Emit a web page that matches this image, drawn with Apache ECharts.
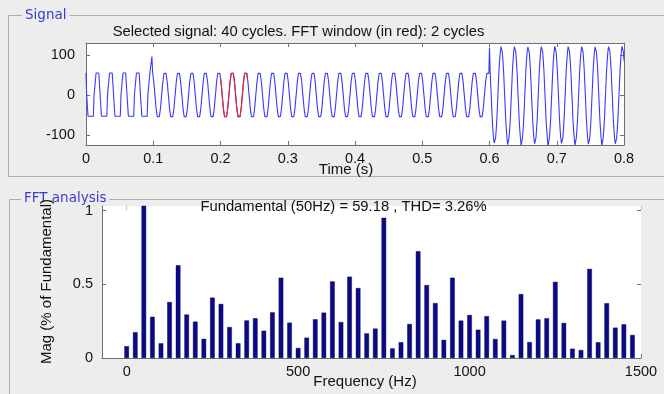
<!DOCTYPE html>
<html>
<head>
<meta charset="utf-8">
<script src="https://cdn.jsdelivr.net/npm/echarts@6/dist/echarts.min.js"></script>
<style>
  html, body { margin: 0; padding: 0; background: #ededed; }
  #chart { width: 664px; height: 394px; }
</style>
</head>
<body>
<div id="chart"></div>
<script>
// Recorded signal, one sample every millisecond (20 samples per 50 Hz cycle)
const sampleStep = 0.001;
const fftWindow = [0.2, 0.24];

// 0 – 0.1 s : three-level quasi-square wave, spike just before 0.1 s
const segSquare = [
  55,0,0,-53,-53,-53,-53,-53,-53,-53,-53,-53,0,0,0,55,55,55,55,55,
  55,0,0,-53,-53,-53,-53,-53,-53,-53,-53,-53,0,0,0,55,55,55,55,55,
  55,0,0,-53,-53,-53,-53,-53,-53,-53,-53,-53,0,0,0,55,55,55,55,55,
  55,0,0,-53,-53,-53,-53,-53,-53,-53,-53,-53,0,0,0,55,55,55,55,55,
  55,0,0,-53,-53,-53,-53,-53,-53,-53,-53,-53,0,0,0,55,55,55,96,58
];

// 0.1 – 0.6 s : stepped sine, about 58 peak (25 cycles)
const segSine = [
  43,29,9,-9,-29,-43,-54,-58,-58,-54,-43,-29,-9,9,29,43,54,57,57,54,
  43,29,9,-9,-29,-43,-54,-58,-58,-54,-43,-29,-9,9,29,43,54,57,57,54,
  43,29,9,-9,-29,-43,-54,-58,-58,-54,-43,-29,-9,9,29,43,54,57,57,54,
  43,29,9,-9,-29,-43,-54,-58,-58,-54,-43,-29,-9,9,29,43,54,57,57,54,
  43,29,9,-9,-29,-43,-54,-58,-58,-54,-43,-29,-9,9,29,43,54,57,57,54,
  43,29,9,-9,-29,-43,-54,-58,-58,-54,-43,-29,-9,9,29,43,54,57,57,54,
  43,29,9,-9,-29,-43,-54,-58,-58,-54,-43,-29,-9,9,29,43,54,57,57,54,
  43,29,9,-9,-29,-43,-54,-58,-58,-54,-43,-29,-9,9,29,43,54,57,57,54,
  43,29,9,-9,-29,-43,-54,-58,-58,-54,-43,-29,-9,9,29,43,54,57,57,54,
  43,29,9,-9,-29,-43,-54,-58,-58,-54,-43,-29,-9,9,29,43,54,57,57,54,
  43,29,9,-9,-29,-43,-54,-58,-58,-54,-43,-29,-9,9,29,43,54,57,57,54,
  43,29,9,-9,-29,-43,-54,-58,-58,-54,-43,-29,-9,9,29,43,54,57,57,54,
  43,29,9,-9,-29,-43,-54,-58,-58,-54,-43,-29,-9,9,29,43,54,57,57,54,
  43,29,9,-9,-29,-43,-54,-58,-58,-54,-43,-29,-9,9,29,43,54,57,57,54,
  43,29,9,-9,-29,-43,-54,-58,-58,-54,-43,-29,-9,9,29,43,54,57,57,54,
  43,29,9,-9,-29,-43,-54,-58,-58,-54,-43,-29,-9,9,29,43,54,57,57,54,
  43,29,9,-9,-29,-43,-54,-58,-58,-54,-43,-29,-9,9,29,43,54,57,57,54,
  43,29,9,-9,-29,-43,-54,-58,-58,-54,-43,-29,-9,9,29,43,54,57,57,54,
  43,29,9,-9,-29,-43,-54,-58,-58,-54,-43,-29,-9,9,29,43,54,57,57,54,
  43,29,9,-9,-29,-43,-54,-58,-58,-54,-43,-29,-9,9,29,43,54,57,57,54,
  43,29,9,-9,-29,-43,-54,-58,-58,-54,-43,-29,-9,9,29,43,54,57,57,54,
  43,29,9,-9,-29,-43,-54,-58,-58,-54,-43,-29,-9,9,29,43,54,57,57,54,
  43,29,9,-9,-29,-43,-54,-58,-58,-54,-43,-29,-9,9,29,43,54,57,57,54,
  43,29,9,-9,-29,-43,-54,-58,-58,-54,-43,-29,-9,9,29,43,54,57,57,54,
  43,29,9,-9,-29,-43,-54,-58,-58,-54,-43,-29,-9,9,29,43,54,57,57,54
];

// 0.6 – 0.8 s : larger stepped sine, about 122 peak (10 cycles + end sample)
const segLarge = [
  118,58,19,-19,-58,-86,-108,-120,-122,-108,-86,-58,-19,19,58,86,108,121,121,108,
  86,58,19,-19,-58,-86,-108,-124,-121,-108,-86,-58,-19,19,58,86,108,121,122,108,
  86,58,19,-19,-58,-86,-108,-127,-122,-108,-86,-58,-19,19,58,86,108,120,121,108,
  86,58,19,-19,-58,-86,-108,-122,-120,-108,-86,-58,-19,19,58,86,108,121,121,108,
  86,58,19,-19,-58,-86,-108,-128,-123,-108,-86,-58,-19,19,58,86,108,122,121,108,
  86,58,19,-19,-58,-86,-108,-121,-121,-108,-86,-58,-19,19,58,86,108,121,120,108,
  86,58,19,-19,-58,-86,-108,-126,-122,-108,-86,-58,-19,19,58,86,108,121,122,108,
  86,58,19,-19,-58,-86,-108,-123,-121,-108,-86,-58,-19,19,58,86,108,120,121,108,
  86,58,19,-19,-58,-86,-108,-127,-122,-108,-86,-58,-19,19,58,86,108,121,121,108,
  86,58,19,-19,-58,-86,-108,-122,-121,-108,-86,-58,-19,19,58,86,108,122,121,108,
  86
];

// FFT of the 2-cycle window: 25 Hz bins, magnitude in % of fundamental
const harmonicFreqs = [
  0,25,50,75,100,125,150,175,200,225,250,275,300,325,350,375,400,425,450,475,
  500,525,550,575,600,625,650,675,700,725,750,775,800,825,850,875,900,925,950,975,
  1000,1025,1050,1075,1100,1125,1150,1175,1200,1225,1250,1275,1300,1325,1350,1375,1400,1425,1450,1475
];
const harmonicMags = [
  0.08,0.175,100,0.28,0.10,0.38,0.63,0.295,0.247,0.13,0.41,0.367,0.21,0.10,0.255,0.27,0.185,0.31,0.545,0.24,
  0.068,0.138,0.263,0.308,0.52,0.244,0.552,0.475,0.167,0.20,0.952,0.065,0.107,0.231,0.725,0.495,0.373,0.123,0.545,0.254,
  0.292,0.192,0.284,0.129,0.254,0.02,0.434,0.108,0.262,0.27,0.517,0.238,0.063,0.054,0.605,0.107,0.372,0.206,0.229,0.156
];

const signalTicksY = [-100, 0, 100];
const fftTicksX = [0, 500, 1000, 1500];
const fftTicksY = [0, 0.5, 1];

const signalTitle = 'Selected signal: 40 cycles. FFT window (in red): 2 cycles';
const fftTitle = 'Fundamental (50Hz) = 59.18 , THD= 3.26%';

// ---- build series data ----
const signal = segSquare.concat(segSine, segLarge);
const signalData = signal.map((v, i) => [+(i * sampleStep).toFixed(3), v]);
const windowData = signalData.filter(p => p[0] >= fftWindow[0] - 1e-9 && p[0] <= fftWindow[1] + 1e-9);
const fftData = harmonicFreqs.map((f, i) => [f, harmonicMags[i]]);

const FONT = '"Liberation Sans", Arial, Helvetica, sans-serif';
const PANEL_FONT = '"DejaVu Sans", Verdana, sans-serif';
const AX = '#6f6f6f';
const BG = '#ededed';

function axisBase(extra) {
  return Object.assign({
    type: 'value',
    splitLine: { show: false },
    axisLine: { show: true, onZero: false, lineStyle: { color: AX, width: 1 } },
    axisTick: { show: true, inside: true, length: 4, lineStyle: { color: AX } },
    axisLabel: { show: false }
  }, extra);
}
const tickLabel = (margin, extra) => Object.assign({
  show: true, color: '#111', fontSize: 14.5, fontFamily: FONT, margin: margin
}, extra || {});
const plain = v => String(+(+v).toFixed(2));

const chart = echarts.init(document.getElementById('chart'), null, { renderer: 'canvas' });

chart.setOption({
  animation: false,
  backgroundColor: BG,
  grid: [
    { left: 86, top: 43, width: 538, height: 102, show: true, backgroundColor: '#ffffff', borderWidth: 0 },
    { left: 102, top: 206, width: 539, height: 152, show: true, backgroundColor: '#ffffff', borderWidth: 0 }
  ],
  xAxis: [
    axisBase({ gridIndex: 0, position: 'bottom', min: 0, max: 0.8, interval: 0.1,
      axisLabel: tickLabel(6, { formatter: plain }) }),
    axisBase({ gridIndex: 0, position: 'top', min: 0, max: 0.8, interval: 0.1 }),
    axisBase({ gridIndex: 1, position: 'bottom', min: -72, max: 1500,
      axisTick: { show: true, inside: true, length: 4, customValues: fftTicksX, lineStyle: { color: AX } },
      axisLabel: tickLabel(6, { customValues: fftTicksX, formatter: plain }) }),
    axisBase({ gridIndex: 1, position: 'top', min: -72, max: 1500,
      axisLine: { show: false, onZero: false },
      axisTick: { show: true, inside: true, length: 4, customValues: fftTicksX, lineStyle: { color: '#bbbbbb' } } })
  ],
  yAxis: [
    axisBase({ gridIndex: 0, position: 'left', min: -125, max: 130,
      axisTick: { show: true, inside: true, length: 4, customValues: signalTicksY, lineStyle: { color: AX } },
      axisLabel: tickLabel(11, { customValues: signalTicksY, formatter: plain }) }),
    axisBase({ gridIndex: 0, position: 'right', min: -125, max: 130,
      axisTick: { show: true, inside: true, length: 4, customValues: signalTicksY, lineStyle: { color: AX } } }),
    axisBase({ gridIndex: 1, position: 'left', min: 0, max: 1.032,
      axisTick: { show: true, inside: true, length: 4, customValues: fftTicksY, lineStyle: { color: AX } },
      axisLabel: tickLabel(9, { customValues: fftTicksY, formatter: plain }) }),
    axisBase({ gridIndex: 1, position: 'right', min: 0, max: 1.032,
      axisLine: { show: false, onZero: false },
      axisTick: { show: true, inside: true, length: 4, customValues: fftTicksY, lineStyle: { color: AX } } })
  ],
  series: [
    {
      name: 'signal', type: 'line', xAxisIndex: 0, yAxisIndex: 0,
      data: signalData, showSymbol: false, symbol: 'none', sampling: null,
      lineStyle: { color: '#3a3aff', width: 1.1 }, z: 3
    },
    {
      name: 'FFT window', type: 'line', xAxisIndex: 0, yAxisIndex: 0,
      data: windowData, showSymbol: false, symbol: 'none',
      lineStyle: { color: '#f02222', width: 1.1 }, z: 4
    },
    {
      name: 'spectrum', type: 'bar', xAxisIndex: 2, yAxisIndex: 2,
      data: fftData, barWidth: 4.6, clip: true,
      itemStyle: { color: '#0a0a86', borderColor: '#00004a', borderWidth: 0.4 }
    }
  ],
  graphic: [
    // panel frames
    { type: 'rect', z: 1, shape: { x: 8.5, y: 15.5, width: 700, height: 161 },
      style: { fill: 'none', stroke: '#acacac', lineWidth: 1 } },
    { type: 'rect', z: 1, shape: { x: 9.5, y: 199.5, width: 700, height: 300 },
      style: { fill: 'none', stroke: '#acacac', lineWidth: 1 } },
    // panel captions
    { type: 'text', z: 50, left: 22, top: 8,
      style: { text: 'Signal', fill: '#3a3ad6', font: '13.5px ' + PANEL_FONT,
               backgroundColor: BG, padding: [0, 3] } },
    { type: 'text', z: 50, left: 21, top: 191,
      style: { text: 'FFT analysis', fill: '#3a3ad6', font: '13.5px ' + PANEL_FONT,
               backgroundColor: BG, padding: [0, 3] } },
    // plot titles and axis names
    { type: 'text', z: 60, x: 298.5, y: 32,
      style: { text: signalTitle, fill: '#111', font: '14.8px ' + FONT, align: 'center', verticalAlign: 'middle' } },
    { type: 'text', z: 60, x: 346, y: 170,
      style: { text: 'Time (s)', fill: '#111', font: '15px ' + FONT, align: 'center', verticalAlign: 'middle' } },
    { type: 'text', z: 60, x: 343.5, y: 207,
      style: { text: fftTitle, fill: '#111', font: '14.8px ' + FONT, align: 'center', verticalAlign: 'middle' } },
    { type: 'text', z: 60, x: 365, y: 381.5,
      style: { text: 'Frequency (Hz)', fill: '#111', font: '15px ' + FONT, align: 'center', verticalAlign: 'middle' } },
    { type: 'text', z: 60, x: 46.5, y: 281.5, rotation: Math.PI / 2,
      style: { text: 'Mag (% of Fundamental)', fill: '#111', font: '15px ' + FONT, align: 'center', verticalAlign: 'middle' } }
  ]
});
</script>
</body>
</html>
